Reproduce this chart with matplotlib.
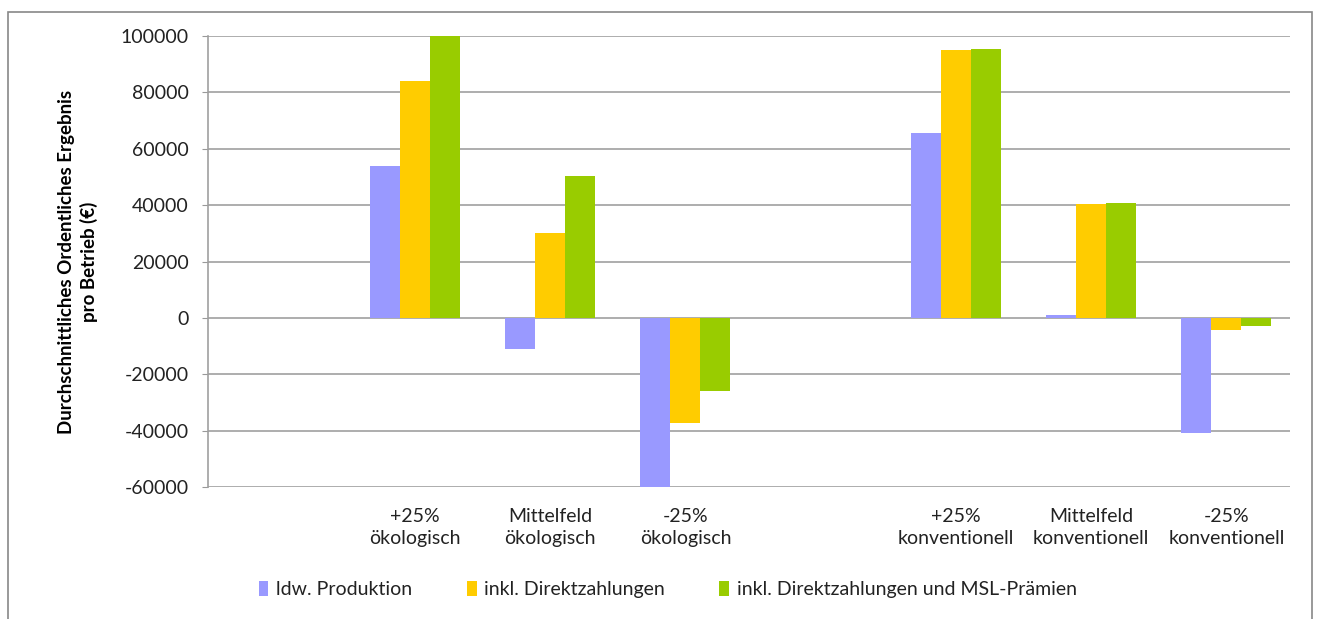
import matplotlib.pyplot as plt
import matplotlib.patches as mpatches
import numpy as np

plt.rcParams['font.family'] = ['Lato', 'DejaVu Sans']

# Categories (two empty slots act as spacers between groups)
categories = ["", "+25%\nökologisch", "Mittelfeld\nökologisch", "-25%\nökologisch",
              "", "+25%\nkonventionell", "Mittelfeld\nkonventionell", "-25%\nkonventionell"]

series_names = ["ldw. Produktion", "inkl. Direktzahlungen",
                "inkl. Direktzahlungen und MSL-Prämien"]

produktion = [np.nan, 54000, -11000, -60000, np.nan, 65500, 1000, -40700]
direkt = [np.nan, 84000, 30000, -37200, np.nan, 95000, 40400, -4300]
direkt_msl = [np.nan, 100000, 50300, -25900, np.nan, 95400, 40800, -2700]

colors = ["#9999FF", "#FFCC00", "#99CC00"]


def main():
    fig = plt.figure(figsize=(13.19, 6.19), dpi=100)
    ax = fig.add_axes([0.1577, 0.2132, 0.8203, 0.7286])

    x = np.arange(len(categories))
    w = 0.222
    for i, (vals, c) in enumerate(zip([produktion, direkt, direkt_msl], colors)):
        ax.bar(x + 0.03 + (i - 1) * w, vals, width=w, color=c, label=series_names[i], zorder=3)

    ax.set_xlim(-0.5, len(categories) - 0.5)
    ax.set_ylim(-60000, 100000)
    ax.set_yticks(np.arange(-60000, 100001, 20000))
    ax.set_yticklabels([str(v) for v in range(-60000, 100001, 20000)], fontsize=14, color="#222222")
    ax.set_xticks(x + 0.03)
    ax.set_xticklabels(categories, fontsize=14, color="#222222", linespacing=1.35)
    ax.tick_params(axis="x", length=0, pad=15)
    ax.tick_params(axis="y", length=4, color="#999999", pad=10)

    ax.grid(axis="y", color="#a0a0a0", linewidth=1.2, zorder=0)
    for s in ["top", "right", "bottom"]:
        ax.spines[s].set_visible(False)
    ax.spines["left"].set_color("#a0a0a0")
    ax.spines["left"].set_linewidth(1.2)

    ax.set_ylabel("Durchschnittliches Ordentliches Ergebnis\npro Betrieb (€)",
                  fontsize=13.5, fontweight="bold", labelpad=16, linespacing=1.35)

    ax.legend(loc="upper center", bbox_to_anchor=(0.425, -0.17), ncol=3, frameon=False,
              fontsize=14, handlelength=0.5, handleheight=0.8, handletextpad=0.4,
              columnspacing=2.8, labelcolor="#222222")

    # outer chart frame
    fig.patches.append(mpatches.Rectangle((8 / 1319, -0.05), 1304 / 1319, 1.03,
                                          transform=fig.transFigure, fill=False,
                                          edgecolor="#888888", linewidth=1.2))

    fig.savefig("out.png", dpi=100, facecolor="white")


if __name__ == "__main__":
    main()
